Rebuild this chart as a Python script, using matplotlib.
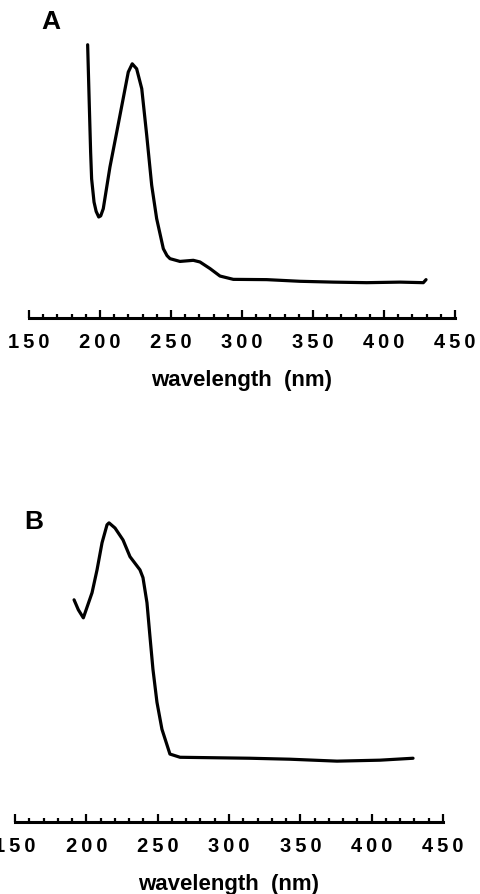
import matplotlib
matplotlib.use("Agg")
import matplotlib.pyplot as plt
from matplotlib.ticker import MultipleLocator, FixedLocator, FixedFormatter

plt.rcParams['font.family'] = ['Liberation Sans', 'DejaVu Sans']
plt.rcParams['font.weight'] = 'bold'

# Espectro A (longitud de onda en nm, absorbancia relativa)
wl_a = [191.3, 192.4, 193.4, 194.1, 195.8, 197.3, 199.1, 200.5, 202.3, 207.0,
        211.8, 216.4, 219.9, 222.7, 225.8, 229.4, 232.9, 236.4, 239.9, 244.6,
        247.2, 249.3, 256.3, 265.7, 270.4, 277.5, 284.5, 293.9, 317.4, 340.8,
        364.3, 387.8, 411.3, 427.7, 429.6]
abs_a = [0.990, 0.783, 0.601, 0.504, 0.420, 0.386, 0.366, 0.370, 0.396, 0.547,
         0.674, 0.797, 0.891, 0.921, 0.903, 0.831, 0.662, 0.481, 0.360, 0.251,
         0.226, 0.215, 0.205, 0.209, 0.203, 0.179, 0.152, 0.140, 0.139, 0.133,
         0.130, 0.128, 0.130, 0.128, 0.139]

# Espectro B
wl_b = [191.4, 194.4, 197.9, 204.0, 207.5, 211.0, 214.5, 215.9, 220.1, 225.7,
        230.6, 237.6, 239.7, 242.5, 244.6, 246.7, 249.5, 253.0, 258.6, 265.7,
        314.7, 342.7, 375.7, 405.8, 429.0]
abs_b = [0.690, 0.659, 0.634, 0.712, 0.783, 0.867, 0.923, 0.929, 0.913, 0.876,
         0.824, 0.783, 0.759, 0.681, 0.576, 0.474, 0.372, 0.288, 0.211, 0.201,
         0.198, 0.195, 0.189, 0.192, 0.198]

ticks_mayores = [150, 200, 250, 300, 350, 400, 450]
etiquetas = ['\u2009'.join(str(t)) for t in ticks_mayores]

W, H = 480, 894
fig = plt.figure(figsize=(W / 100, H / 100), dpi=100)


def px_axes(left, right, bottom, top):
    # convierte pixeles (origen arriba-izquierda) a coordenadas de figura
    return [left / W, 1 - bottom / H, (right - left) / W, (bottom - top) / H]


def panel(rect, wl, ab, letra, letra_xy):
    ax = fig.add_axes(rect)
    ax.plot(wl, ab, color='black', lw=2.3, solid_joinstyle='round', solid_capstyle='round')
    ax.set_xlim(150, 450)
    ax.set_ylim(0, 1.0)
    for s in ['left', 'right', 'top']:
        ax.spines[s].set_visible(False)
    ax.spines['bottom'].set_linewidth(2.2)
    ax.set_yticks([])
    ax.xaxis.set_major_locator(FixedLocator(ticks_mayores))
    ax.xaxis.set_major_formatter(FixedFormatter(etiquetas))
    ax.xaxis.set_minor_locator(MultipleLocator(10))
    ax.tick_params(axis='x', which='major', direction='in', length=6, width=1.6,
                   labelsize=14.5, pad=11)
    ax.tick_params(axis='x', which='minor', direction='in', length=3, width=1.6)
    for lab in ax.get_xticklabels():
        lab.set_fontweight('bold')
    ax.set_xlabel('wavelength  (nm)', fontsize=16, fontweight='bold', labelpad=13)
    fig.text(letra_xy[0] / W, 1 - letra_xy[1] / H, letra, fontsize=19,
             fontweight='bold', ha='center', va='center')
    ax.patch.set_alpha(0)
    return ax


panel(px_axes(29, 455, 318, 42), wl_a, abs_a, 'A', (51, 22))
panel(px_axes(15, 443, 822, 500), wl_b, abs_b, 'B', (34, 522))

fig.savefig('out.png', dpi=100)
